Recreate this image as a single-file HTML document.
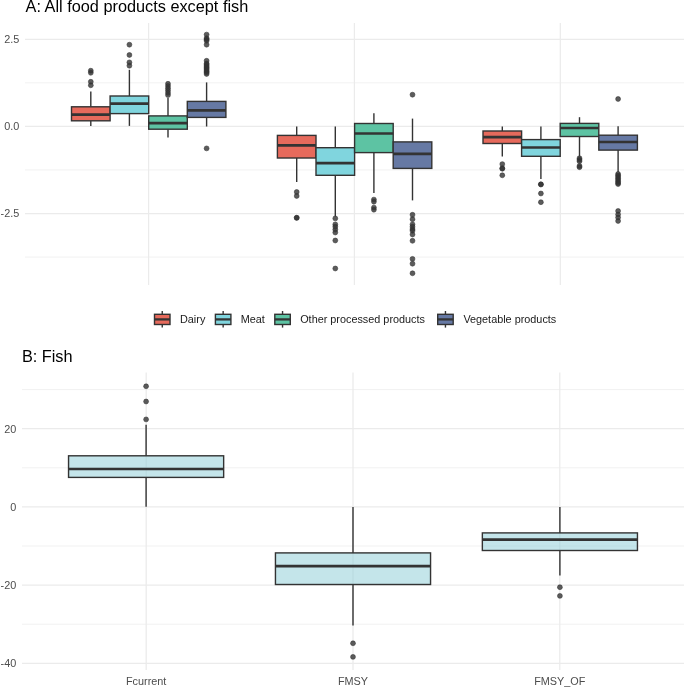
<!DOCTYPE html>
<html><head><meta charset="utf-8"><style>
html,body{margin:0;padding:0;background:#fff;}
body{width:685px;height:687px;overflow:hidden;}
svg{display:block;will-change:transform;}
text{}
.ax{font-family:"Liberation Sans",sans-serif;font-size:10.85px;fill:#4d4d4d;}
.lg{font-family:"Liberation Sans",sans-serif;font-size:10.85px;fill:#1a1a1a;}
.pt{fill:#333333;fill-opacity:0.8;stroke:#333333;stroke-opacity:0.8;stroke-width:0.7px;}
.tt{font-family:"Liberation Sans",sans-serif;font-size:16.3px;fill:#000;}
</style></head><body>
<svg width="685" height="687" viewBox="0 0 685 687">
<rect width="685" height="687" fill="#ffffff"/>
<line x1="25.0" x2="684.0" y1="82.85" y2="82.85" stroke="#ebebeb" stroke-width="0.7"/>
<line x1="25.0" x2="684.0" y1="169.95" y2="169.95" stroke="#ebebeb" stroke-width="0.7"/>
<line x1="25.0" x2="684.0" y1="257.05" y2="257.05" stroke="#ebebeb" stroke-width="0.7"/>
<line x1="25.0" x2="684.0" y1="39.3" y2="39.3" stroke="#ebebeb" stroke-width="1.25"/>
<line x1="25.0" x2="684.0" y1="126.4" y2="126.4" stroke="#ebebeb" stroke-width="1.25"/>
<line x1="25.0" x2="684.0" y1="213.5" y2="213.5" stroke="#ebebeb" stroke-width="1.25"/>
<line x1="148.6" x2="148.6" y1="23.0" y2="285.0" stroke="#ebebeb" stroke-width="1.25"/>
<line x1="354.4" x2="354.4" y1="23.0" y2="285.0" stroke="#ebebeb" stroke-width="1.25"/>
<line x1="560.3" x2="560.3" y1="23.0" y2="285.0" stroke="#ebebeb" stroke-width="1.25"/>
<line x1="22.0" x2="684.0" y1="389.6" y2="389.6" stroke="#ebebeb" stroke-width="0.7"/>
<line x1="22.0" x2="684.0" y1="467.8" y2="467.8" stroke="#ebebeb" stroke-width="0.7"/>
<line x1="22.0" x2="684.0" y1="546.0" y2="546.0" stroke="#ebebeb" stroke-width="0.7"/>
<line x1="22.0" x2="684.0" y1="624.2" y2="624.2" stroke="#ebebeb" stroke-width="0.7"/>
<line x1="22.0" x2="684.0" y1="428.7" y2="428.7" stroke="#ebebeb" stroke-width="1.25"/>
<line x1="22.0" x2="684.0" y1="506.9" y2="506.9" stroke="#ebebeb" stroke-width="1.25"/>
<line x1="22.0" x2="684.0" y1="585.1" y2="585.1" stroke="#ebebeb" stroke-width="1.25"/>
<line x1="22.0" x2="684.0" y1="663.3" y2="663.3" stroke="#ebebeb" stroke-width="1.25"/>
<line x1="146.2" x2="146.2" y1="372.5" y2="670.0" stroke="#ebebeb" stroke-width="1.25"/>
<line x1="353.0" x2="353.0" y1="372.5" y2="670.0" stroke="#ebebeb" stroke-width="1.25"/>
<line x1="559.8" x2="559.8" y1="372.5" y2="670.0" stroke="#ebebeb" stroke-width="1.25"/>
<line x1="90.8" x2="90.8" y1="91.6" y2="106.8" stroke="#333333" stroke-width="1.4"/>
<line x1="90.8" x2="90.8" y1="120.8" y2="125.9" stroke="#333333" stroke-width="1.4"/>
<rect x="71.5" y="106.8" width="38.6" height="14" fill="#e66a5c" stroke="#333333" stroke-width="1.4"/>
<line x1="71.5" x2="110.1" y1="114.7" y2="114.7" stroke="#333333" stroke-width="2.7"/>
<circle cx="90.8" cy="70.7" r="2.45" class="pt"/>
<circle cx="90.8" cy="72.8" r="2.45" class="pt"/>
<circle cx="90.8" cy="81.8" r="2.45" class="pt"/>
<circle cx="90.8" cy="85.3" r="2.45" class="pt"/>
<line x1="129.4" x2="129.4" y1="69.8" y2="96" stroke="#333333" stroke-width="1.4"/>
<line x1="129.4" x2="129.4" y1="113.6" y2="125.9" stroke="#333333" stroke-width="1.4"/>
<rect x="110.1" y="96" width="38.6" height="17.6" fill="#80d5de" stroke="#333333" stroke-width="1.4"/>
<line x1="110.1" x2="148.7" y1="103.7" y2="103.7" stroke="#333333" stroke-width="2.7"/>
<circle cx="129.4" cy="44.7" r="2.45" class="pt"/>
<circle cx="129.4" cy="55" r="2.45" class="pt"/>
<circle cx="129.4" cy="62.4" r="2.45" class="pt"/>
<circle cx="129.4" cy="65.7" r="2.45" class="pt"/>
<line x1="168" x2="168" y1="98" y2="115.9" stroke="#333333" stroke-width="1.4"/>
<line x1="168" x2="168" y1="129.2" y2="137.4" stroke="#333333" stroke-width="1.4"/>
<rect x="148.7" y="115.9" width="38.6" height="13.3" fill="#5dc3a3" stroke="#333333" stroke-width="1.4"/>
<line x1="148.7" x2="187.3" y1="123.1" y2="123.1" stroke="#333333" stroke-width="2.7"/>
<circle cx="168" cy="83.8" r="2.45" class="pt"/>
<circle cx="168" cy="86" r="2.45" class="pt"/>
<circle cx="168" cy="88.3" r="2.45" class="pt"/>
<circle cx="168" cy="90.6" r="2.45" class="pt"/>
<circle cx="168" cy="92.9" r="2.45" class="pt"/>
<circle cx="168" cy="95.1" r="2.45" class="pt"/>
<line x1="206.6" x2="206.6" y1="82.4" y2="101.4" stroke="#333333" stroke-width="1.4"/>
<line x1="206.6" x2="206.6" y1="117.4" y2="126.5" stroke="#333333" stroke-width="1.4"/>
<rect x="187.3" y="101.4" width="38.6" height="16" fill="#6679a4" stroke="#333333" stroke-width="1.4"/>
<line x1="187.3" x2="225.9" y1="110.4" y2="110.4" stroke="#333333" stroke-width="2.7"/>
<circle cx="206.6" cy="34.6" r="2.45" class="pt"/>
<circle cx="206.6" cy="38.2" r="2.45" class="pt"/>
<circle cx="206.6" cy="39.5" r="2.45" class="pt"/>
<circle cx="206.6" cy="40.8" r="2.45" class="pt"/>
<circle cx="206.6" cy="44.7" r="2.45" class="pt"/>
<circle cx="206.6" cy="60.8" r="2.45" class="pt"/>
<circle cx="206.6" cy="63.5" r="2.45" class="pt"/>
<circle cx="206.6" cy="64.8" r="2.45" class="pt"/>
<circle cx="206.6" cy="66.1" r="2.45" class="pt"/>
<circle cx="206.6" cy="67.4" r="2.45" class="pt"/>
<circle cx="206.6" cy="68.7" r="2.45" class="pt"/>
<circle cx="206.6" cy="70" r="2.45" class="pt"/>
<circle cx="206.6" cy="71.3" r="2.45" class="pt"/>
<circle cx="206.6" cy="72.6" r="2.45" class="pt"/>
<circle cx="206.6" cy="74" r="2.45" class="pt"/>
<circle cx="206.6" cy="148.4" r="2.45" class="pt"/>
<line x1="296.7" x2="296.7" y1="126.4" y2="135.4" stroke="#333333" stroke-width="1.4"/>
<line x1="296.7" x2="296.7" y1="158" y2="182" stroke="#333333" stroke-width="1.4"/>
<rect x="277.4" y="135.4" width="38.6" height="22.6" fill="#e66a5c" stroke="#333333" stroke-width="1.4"/>
<line x1="277.4" x2="316" y1="145.4" y2="145.4" stroke="#333333" stroke-width="2.7"/>
<circle cx="296.7" cy="192" r="2.45" class="pt"/>
<circle cx="296.7" cy="196" r="2.45" class="pt"/>
<circle cx="296.7" cy="217.7" r="2.45" class="pt"/>
<circle cx="296.7" cy="217.9" r="2.45" class="pt"/>
<line x1="335.3" x2="335.3" y1="126.4" y2="147.7" stroke="#333333" stroke-width="1.4"/>
<line x1="335.3" x2="335.3" y1="175.3" y2="216.4" stroke="#333333" stroke-width="1.4"/>
<rect x="316" y="147.7" width="38.6" height="27.6" fill="#80d5de" stroke="#333333" stroke-width="1.4"/>
<line x1="316" x2="354.6" y1="163.2" y2="163.2" stroke="#333333" stroke-width="2.7"/>
<circle cx="335.3" cy="218.4" r="2.45" class="pt"/>
<circle cx="335.3" cy="224.4" r="2.45" class="pt"/>
<circle cx="335.3" cy="226.8" r="2.45" class="pt"/>
<circle cx="335.3" cy="229.6" r="2.45" class="pt"/>
<circle cx="335.3" cy="232.5" r="2.45" class="pt"/>
<circle cx="335.3" cy="240.5" r="2.45" class="pt"/>
<circle cx="335.3" cy="268.5" r="2.45" class="pt"/>
<line x1="373.9" x2="373.9" y1="113.2" y2="123.5" stroke="#333333" stroke-width="1.4"/>
<line x1="373.9" x2="373.9" y1="152.6" y2="192.9" stroke="#333333" stroke-width="1.4"/>
<rect x="354.6" y="123.5" width="38.6" height="29.1" fill="#5dc3a3" stroke="#333333" stroke-width="1.4"/>
<line x1="354.6" x2="393.2" y1="133.5" y2="133.5" stroke="#333333" stroke-width="2.7"/>
<circle cx="373.9" cy="199.6" r="2.45" class="pt"/>
<circle cx="373.9" cy="201.7" r="2.45" class="pt"/>
<circle cx="373.9" cy="207.6" r="2.45" class="pt"/>
<circle cx="373.9" cy="209.7" r="2.45" class="pt"/>
<line x1="412.5" x2="412.5" y1="118.6" y2="141.9" stroke="#333333" stroke-width="1.4"/>
<line x1="412.5" x2="412.5" y1="168.4" y2="200.4" stroke="#333333" stroke-width="1.4"/>
<rect x="393.2" y="141.9" width="38.6" height="26.5" fill="#6679a4" stroke="#333333" stroke-width="1.4"/>
<line x1="393.2" x2="431.8" y1="153.8" y2="153.8" stroke="#333333" stroke-width="2.7"/>
<circle cx="412.5" cy="94.7" r="2.45" class="pt"/>
<circle cx="412.5" cy="214.8" r="2.45" class="pt"/>
<circle cx="412.5" cy="219.3" r="2.45" class="pt"/>
<circle cx="412.5" cy="224.4" r="2.45" class="pt"/>
<circle cx="412.5" cy="226.8" r="2.45" class="pt"/>
<circle cx="412.5" cy="229.2" r="2.45" class="pt"/>
<circle cx="412.5" cy="230.8" r="2.45" class="pt"/>
<circle cx="412.5" cy="234.5" r="2.45" class="pt"/>
<circle cx="412.5" cy="240.8" r="2.45" class="pt"/>
<circle cx="412.5" cy="258.9" r="2.45" class="pt"/>
<circle cx="412.5" cy="263.7" r="2.45" class="pt"/>
<circle cx="412.5" cy="273.3" r="2.45" class="pt"/>
<line x1="502.3" x2="502.3" y1="126.4" y2="131" stroke="#333333" stroke-width="1.4"/>
<line x1="502.3" x2="502.3" y1="143.5" y2="156.6" stroke="#333333" stroke-width="1.4"/>
<rect x="483" y="131" width="38.6" height="12.5" fill="#e66a5c" stroke="#333333" stroke-width="1.4"/>
<line x1="483" x2="521.6" y1="137.2" y2="137.2" stroke="#333333" stroke-width="2.7"/>
<circle cx="502.3" cy="164.1" r="2.45" class="pt"/>
<circle cx="502.3" cy="168.3" r="2.45" class="pt"/>
<circle cx="502.3" cy="168.7" r="2.45" class="pt"/>
<circle cx="502.3" cy="175.3" r="2.45" class="pt"/>
<line x1="540.9" x2="540.9" y1="126.4" y2="139.6" stroke="#333333" stroke-width="1.4"/>
<line x1="540.9" x2="540.9" y1="156.3" y2="178.9" stroke="#333333" stroke-width="1.4"/>
<rect x="521.6" y="139.6" width="38.6" height="16.7" fill="#80d5de" stroke="#333333" stroke-width="1.4"/>
<line x1="521.6" x2="560.2" y1="147.5" y2="147.5" stroke="#333333" stroke-width="2.7"/>
<circle cx="540.9" cy="184.3" r="2.45" class="pt"/>
<circle cx="540.9" cy="184.5" r="2.45" class="pt"/>
<circle cx="540.9" cy="193.5" r="2.45" class="pt"/>
<circle cx="540.9" cy="202.2" r="2.45" class="pt"/>
<line x1="579.5" x2="579.5" y1="117.2" y2="123.4" stroke="#333333" stroke-width="1.4"/>
<line x1="579.5" x2="579.5" y1="136.5" y2="156.5" stroke="#333333" stroke-width="1.4"/>
<rect x="560.2" y="123.4" width="38.6" height="13.1" fill="#5dc3a3" stroke="#333333" stroke-width="1.4"/>
<line x1="560.2" x2="598.8" y1="128" y2="128" stroke="#333333" stroke-width="2.7"/>
<circle cx="579.5" cy="158.3" r="2.45" class="pt"/>
<circle cx="579.5" cy="159.8" r="2.45" class="pt"/>
<circle cx="579.5" cy="161.3" r="2.45" class="pt"/>
<circle cx="579.5" cy="166" r="2.45" class="pt"/>
<circle cx="579.5" cy="167.2" r="2.45" class="pt"/>
<line x1="618.1" x2="618.1" y1="126.3" y2="135.2" stroke="#333333" stroke-width="1.4"/>
<line x1="618.1" x2="618.1" y1="150.1" y2="172" stroke="#333333" stroke-width="1.4"/>
<rect x="598.8" y="135.2" width="38.6" height="14.9" fill="#6679a4" stroke="#333333" stroke-width="1.4"/>
<line x1="598.8" x2="637.4" y1="142" y2="142" stroke="#333333" stroke-width="2.7"/>
<circle cx="618.1" cy="99" r="2.45" class="pt"/>
<circle cx="618.1" cy="174" r="2.45" class="pt"/>
<circle cx="618.1" cy="175.5" r="2.45" class="pt"/>
<circle cx="618.1" cy="177" r="2.45" class="pt"/>
<circle cx="618.1" cy="178.5" r="2.45" class="pt"/>
<circle cx="618.1" cy="180" r="2.45" class="pt"/>
<circle cx="618.1" cy="181.5" r="2.45" class="pt"/>
<circle cx="618.1" cy="183" r="2.45" class="pt"/>
<circle cx="618.1" cy="184.1" r="2.45" class="pt"/>
<circle cx="618.1" cy="211" r="2.45" class="pt"/>
<circle cx="618.1" cy="214.5" r="2.45" class="pt"/>
<circle cx="618.1" cy="217.5" r="2.45" class="pt"/>
<circle cx="618.1" cy="221" r="2.45" class="pt"/>
<line x1="146.1" x2="146.1" y1="424.7" y2="455.8" stroke="#333333" stroke-width="1.4"/>
<line x1="146.1" x2="146.1" y1="477.4" y2="506.8" stroke="#333333" stroke-width="1.4"/>
<rect x="68.55" y="455.8" width="155.1" height="21.6" fill="#89cbd5" fill-opacity="0.5" stroke="#333333" stroke-width="1.4"/>
<line x1="68.55" x2="223.65" y1="469" y2="469" stroke="#333333" stroke-width="2.7"/>
<circle cx="146.1" cy="386.3" r="2.45" class="pt"/>
<circle cx="146.1" cy="401.5" r="2.45" class="pt"/>
<circle cx="146.1" cy="419.4" r="2.45" class="pt"/>
<line x1="353" x2="353" y1="507.1" y2="552.9" stroke="#333333" stroke-width="1.4"/>
<line x1="353" x2="353" y1="584.5" y2="625.6" stroke="#333333" stroke-width="1.4"/>
<rect x="275.45" y="552.9" width="155.1" height="31.6" fill="#89cbd5" fill-opacity="0.5" stroke="#333333" stroke-width="1.4"/>
<line x1="275.45" x2="430.55" y1="566.1" y2="566.1" stroke="#333333" stroke-width="2.7"/>
<circle cx="353" cy="643.3" r="2.45" class="pt"/>
<circle cx="353" cy="656.9" r="2.45" class="pt"/>
<line x1="559.9" x2="559.9" y1="507.1" y2="532.9" stroke="#333333" stroke-width="1.4"/>
<line x1="559.9" x2="559.9" y1="550.5" y2="575.4" stroke="#333333" stroke-width="1.4"/>
<rect x="482.35" y="532.9" width="155.1" height="17.6" fill="#89cbd5" fill-opacity="0.5" stroke="#333333" stroke-width="1.4"/>
<line x1="482.35" x2="637.45" y1="539.7" y2="539.7" stroke="#333333" stroke-width="2.7"/>
<circle cx="559.9" cy="587.2" r="2.45" class="pt"/>
<circle cx="559.9" cy="595.9" r="2.45" class="pt"/>
<line x1="162.25" x2="162.25" y1="311" y2="327.6" stroke="#333333" stroke-width="1.4"/>
<rect x="154.5" y="314.3" width="15.5" height="10.2" fill="#e66a5c" stroke="#333333" stroke-width="1.4"/>
<line x1="154.5" x2="170" y1="319.4" y2="319.4" stroke="#333333" stroke-width="2.3"/>
<text x="180" y="323.35" class="lg">Dairy</text>
<line x1="223.15" x2="223.15" y1="311" y2="327.6" stroke="#333333" stroke-width="1.4"/>
<rect x="215.4" y="314.3" width="15.5" height="10.2" fill="#80d5de" stroke="#333333" stroke-width="1.4"/>
<line x1="215.4" x2="230.9" y1="319.4" y2="319.4" stroke="#333333" stroke-width="2.3"/>
<text x="240.7" y="323.35" class="lg">Meat</text>
<line x1="282.55" x2="282.55" y1="311" y2="327.6" stroke="#333333" stroke-width="1.4"/>
<rect x="274.8" y="314.3" width="15.5" height="10.2" fill="#5dc3a3" stroke="#333333" stroke-width="1.4"/>
<line x1="274.8" x2="290.3" y1="319.4" y2="319.4" stroke="#333333" stroke-width="2.3"/>
<text x="300.2" y="323.35" class="lg">Other processed products</text>
<line x1="445.45" x2="445.45" y1="311" y2="327.6" stroke="#333333" stroke-width="1.4"/>
<rect x="437.7" y="314.3" width="15.5" height="10.2" fill="#6679a4" stroke="#333333" stroke-width="1.4"/>
<line x1="437.7" x2="453.2" y1="319.4" y2="319.4" stroke="#333333" stroke-width="2.3"/>
<text x="463.4" y="323.35" class="lg">Vegetable products</text>
<text x="19.3" y="43.2" class="ax" text-anchor="end">2.5</text>
<text x="19.3" y="130.3" class="ax" text-anchor="end">0.0</text>
<text x="19.3" y="217.4" class="ax" text-anchor="end">-2.5</text>
<text x="16.3" y="432.6" class="ax" text-anchor="end">20</text>
<text x="16.3" y="510.8" class="ax" text-anchor="end">0</text>
<text x="16.3" y="589" class="ax" text-anchor="end">-20</text>
<text x="16.3" y="667.2" class="ax" text-anchor="end">-40</text>
<text x="146.2" y="685" class="ax" text-anchor="middle">Fcurrent</text>
<text x="353.0" y="685" class="ax" text-anchor="middle">FMSY</text>
<text x="559.8" y="685" class="ax" text-anchor="middle">FMSY_OF</text>
<text x="25.6" y="12.2" class="tt">A: All food products except fish</text>
<text x="21.9" y="362.3" class="tt">B: Fish</text>
</svg>
</body></html>
